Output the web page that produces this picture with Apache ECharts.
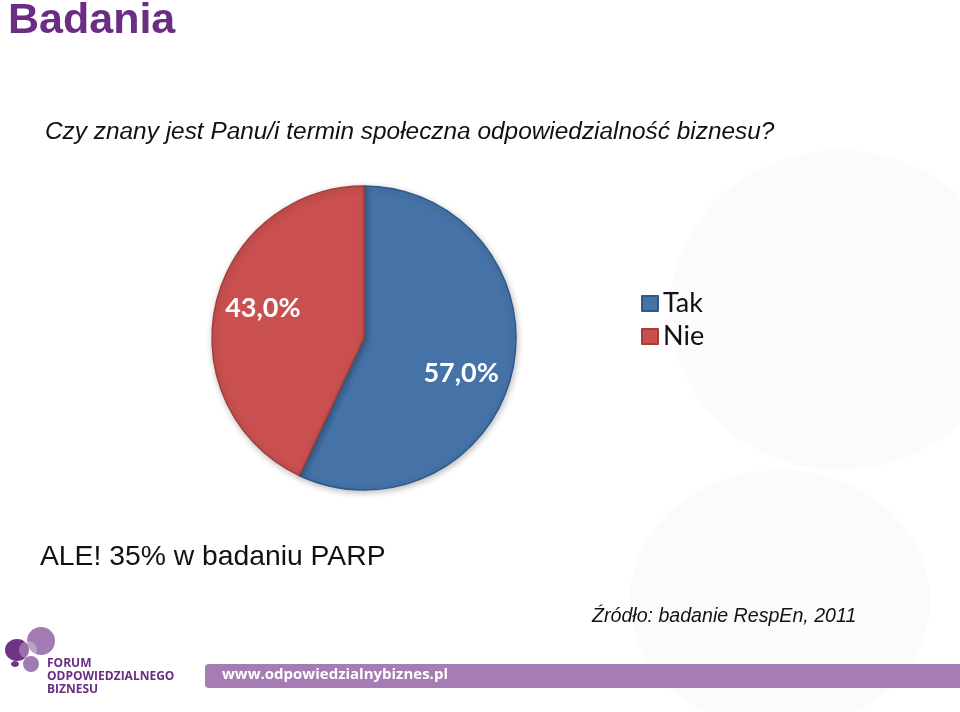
<!DOCTYPE html>
<html><head><meta charset="utf-8">
<script src="https://cdn.jsdelivr.net/npm/echarts@6/dist/echarts.min.js"></script>
<style>html,body{margin:0;padding:0;background:#fff}#c{width:960px;height:712px}</style>
</head><body><div id="c"></div>
<script>
const categories = ['Tak', 'Nie'];
const values = [57.0, 43.0];
const labels = ['57,0%', '43,0%'];
const colors = ['#4572a7', '#c9504e'];
const borders = ['#2e5a8a', '#a23e3b'];
const labelOffsets = [[20, 18], [-24, -12]];

const chart = echarts.init(document.getElementById('c'), null, {renderer: 'canvas'});
const purple = '#6b2c83';
const option = {
  backgroundColor: '#ffffff',
  animation: false,
  legend: {
    orient: 'vertical', left: 636, top: 285, itemWidth: 16, itemHeight: 15, itemGap: 6,
    icon: 'rect',
    textStyle: {fontFamily: 'Lato', fontSize: 27, color: '#111'},
    data: categories
  },
  graphic: [
    {type: 'ellipse', shape: {cx: 840, cy: 310, rx: 170, ry: 160}, style: {fill: '#fbfbfc'}, silent: true, z: -10},
    {type: 'ellipse', shape: {cx: 780, cy: 600, rx: 150, ry: 130}, style: {fill: '#fbfbfc'}, silent: true, z: -10},
    {type: 'text', left: 8, top: 0, style: {text: 'Badania', font: 'bold 43px "Liberation Sans", Arial', fill: purple}},
    {type: 'text', left: 45, top: 120, style: {text: 'Czy znany jest Panu/i termin społeczna odpowiedzialność biznesu?', font: 'italic 24.4px "Liberation Sans", Arial', fill: '#111'}},
    {type: 'text', left: 40, top: 543, style: {text: 'ALE! 35% w badaniu PARP', font: '28.3px "Liberation Sans", Arial', fill: '#111'}},
    {type: 'text', left: 592, top: 607, style: {text: 'Źródło: badanie RespEn, 2011', font: 'italic 19.6px "Liberation Sans", Arial', fill: '#111'}},
    {type: 'rect', shape: {x: 205, y: 664, width: 760, height: 24, r: [4, 0, 0, 4]}, style: {fill: '#a57db4'}},
    {type: 'text', left: 222, top: 667, style: {text: 'www.odpowiedzialnybiznes.pl', font: 'bold 15px "Open Sans"', fill: '#ffffff'}},
    {type: 'circle', shape: {cx: 41, cy: 641, r: 14}, style: {fill: '#a27bb2'}},
    {type: 'ellipse', shape: {cx: 17, cy: 650, rx: 12, ry: 11}, style: {fill: '#6f3388'}},
    {type: 'circle', shape: {cx: 28, cy: 650, r: 9}, style: {fill: '#ffffff', opacity: 0.3}},
    {type: 'circle', shape: {cx: 31, cy: 664, r: 8}, style: {fill: '#a27bb2'}},
    {type: 'ellipse', shape: {cx: 15, cy: 664, rx: 4, ry: 3}, style: {fill: '#6f3388'}},
    {type: 'text', left: 47, top: 658, style: {text: 'FORUM', font: 'bold 12px "Open Sans"', fill: purple}},
    {type: 'text', left: 47, top: 671, style: {text: 'ODPOWIEDZIALNEGO', font: 'bold 12px "Open Sans"', fill: purple}},
    {type: 'text', left: 47, top: 684, style: {text: 'BIZNESU', font: 'bold 12px "Open Sans"', fill: purple}}
  ],
  series: [{
    type: 'pie',
    center: [364, 338],
    radius: [0, 152],
    startAngle: 90,
    clockwise: true,
    silent: true,
    label: {
      show: true, position: 'inside', color: '#fff',
      fontFamily: 'Lato', fontWeight: 'bold', fontSize: 27,
      formatter: p => labels[p.dataIndex]
    },
    labelLine: {show: false},
    data: categories.map((c, i) => ({
      name: c, value: values[i],
      itemStyle: {
        color: colors[i], borderColor: borders[i], borderWidth: 1.5,
        shadowBlur: 6, shadowColor: 'rgba(0,0,0,0.25)', shadowOffsetX: 1, shadowOffsetY: 2
      },
      label: {offset: labelOffsets[i]}
    }))
  }]
};
chart.setOption(option);
</script></body></html>
